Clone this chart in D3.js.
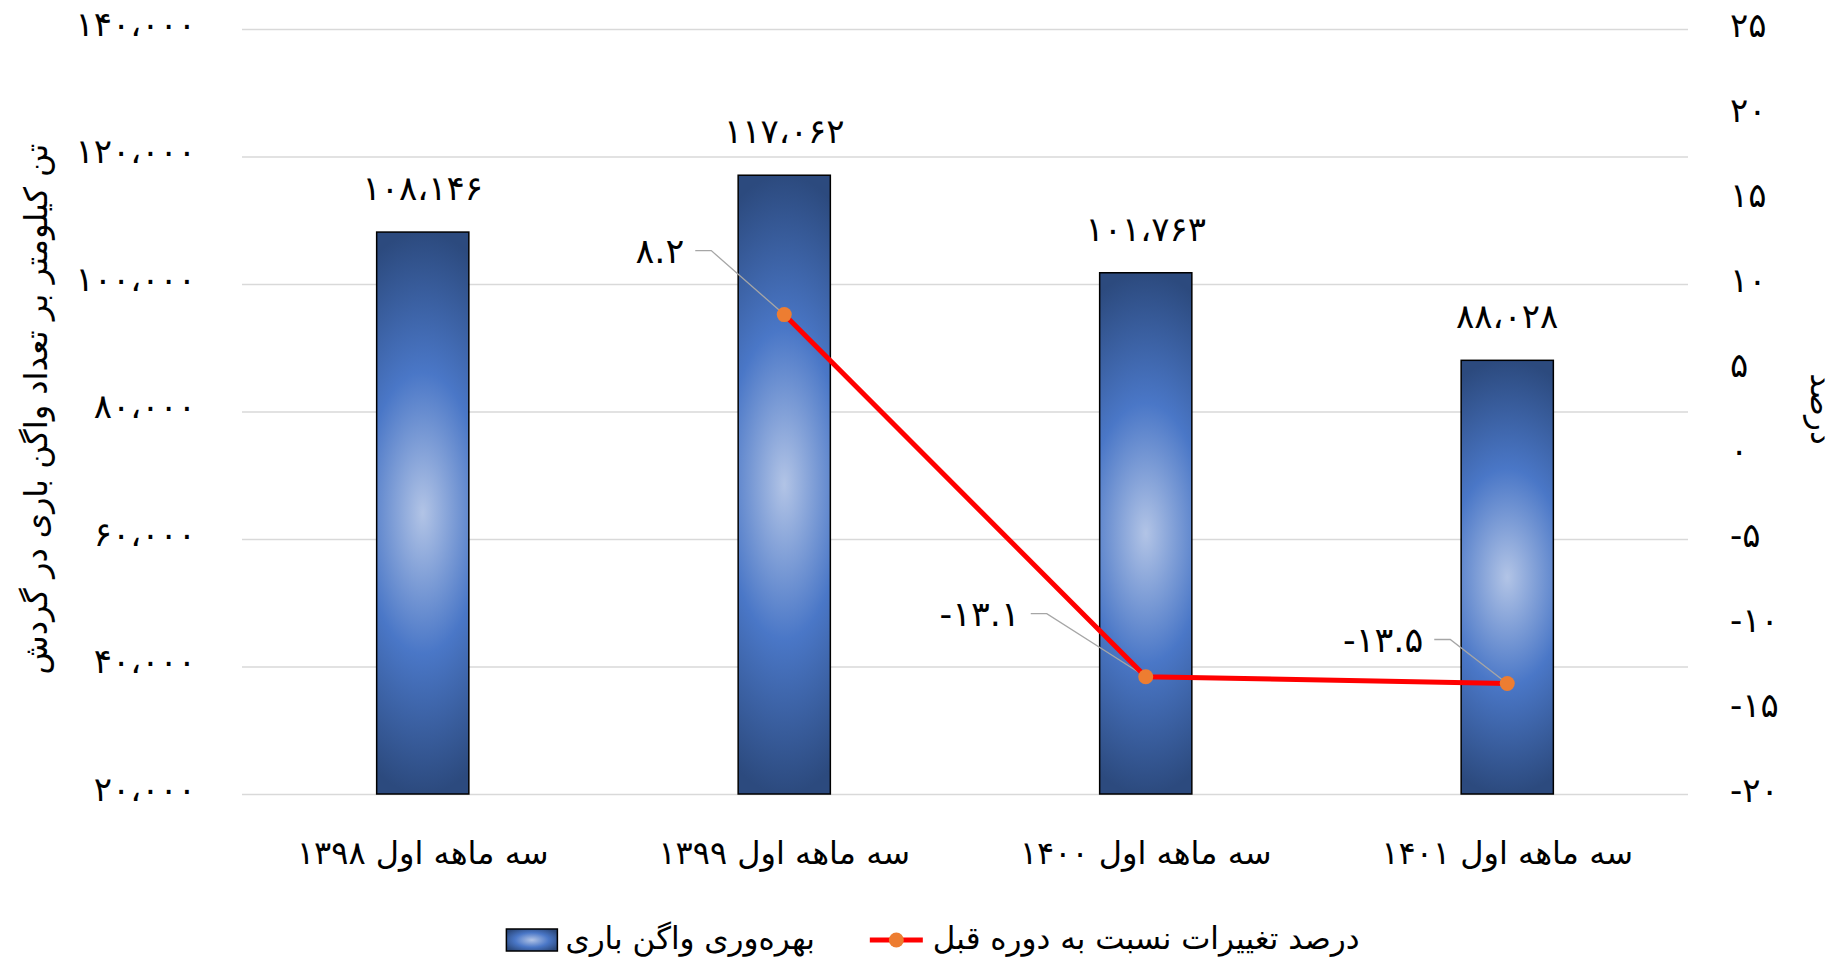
<!DOCTYPE html>
<html>
<head>
<meta charset="utf-8">
<script src="https://cdn.jsdelivr.net/npm/d3@7"></script>
<style>
  body { margin: 0; background: #fff; }
  text { font-family: "DejaVu Sans", sans-serif; fill: #000; }
</style>
</head>
<body>
<div id="chart"></div>
<script>
// chart data
const categories = ["سه ماهه اول ۱۳۹۸", "سه ماهه اول ۱۳۹۹", "سه ماهه اول ۱۴۰۰", "سه ماهه اول ۱۴۰۱"];
const productivity = [108146, 117062, 101763, 88028];
const changePct = [null, 8.2, -13.1, -13.5];
const leftTicks = [20000, 40000, 60000, 80000, 100000, 120000, 140000];
const rightTicks = [-20, -15, -10, -5, 0, 5, 10, 15, 20, 25];

const barName = "بهره‌وری واگن باری";
const lineName = "درصد تغییرات نسبت به دوره قبل";
const leftTitle = "تن کیلومتر بر تعداد واگن باری در گردش";
const rightTitle = "درصد";

// where each line label sits, relative to its point
const labelOffsets = [null, [-100, -64], [-126, -63], [-84, -44]];

var width = 1847, height = 962;
var plot = {left: 242, right: 1688, top: 29, bottom: 794};

const fa = d3.formatLocale({
  decimal: ".", thousands: "،", grouping: [3], currency: ["", ""],
  numerals: ["۰","۱","۲","۳","۴","۵","۶","۷","۸","۹"], minus: "-"
});
const fmtInt = fa.format(",d");
const fmtPct = fa.format(".1f");

const svg = d3.select("#chart").append("svg")
  .attr("width", width)
  .attr("height", height);

const defs = svg.append("defs");
var grad = defs.append("radialGradient")
  .attr("id", "barfill")
  .attr("cx", 0.5).attr("cy", 0.5).attr("r", 0.5)
  .attr("gradientTransform", "translate(0.5,0.5) scale(2.6,1) translate(-0.5,-0.5)");
grad.append("stop").attr("offset", "0%").attr("stop-color", "#b2c4e6");
grad.append("stop").attr("offset", "50%").attr("stop-color", "#4a77c7");
grad.append("stop").attr("offset", "100%").attr("stop-color", "#2c4a7e");

var legGrad = defs.append("radialGradient")
  .attr("id", "legfill")
  .attr("cx", 0.5).attr("cy", 0.5).attr("r", 0.6);
legGrad.append("stop").attr("offset", "0%").attr("stop-color", "#b2c4e6");
legGrad.append("stop").attr("offset", "55%").attr("stop-color", "#4a77c7");
legGrad.append("stop").attr("offset", "100%").attr("stop-color", "#2c4a7e");

const x = d3.scaleBand()
  .domain(categories)
  .range([plot.left, plot.right])
  .paddingInner(0.745)
  .paddingOuter(0.3725);

const yLeft = d3.scaleLinear().domain([20000, 140000]).range([plot.bottom, plot.top]);
const yRight = d3.scaleLinear().domain([-20, 25]).range([plot.bottom, plot.top]);

// gridlines
svg.append("g")
  .attr("transform", "translate(" + plot.left + ",0)")
  .call(d3.axisLeft(yLeft).tickValues(leftTicks).tickSize(-(plot.right - plot.left)).tickFormat(""))
  .call(g => g.select(".domain").remove())
  .call(g => g.selectAll("line").attr("stroke", "#d9d9d9").attr("stroke-width", 1.5));

// left axis labels
svg.append("g")
  .attr("transform", "translate(196,0)")
  .call(d3.axisLeft(yLeft).tickValues(leftTicks).tickSize(0).tickPadding(0).tickFormat(fmtInt))
  .call(g => g.select(".domain").remove())
  .call(g => g.selectAll("text")
    .attr("font-size", 34)
    .attr("font-family", "DejaVu Sans")
    .attr("dy", "0.18em")
    .attr("fill", "#000"));

// right axis labels
svg.append("g")
  .attr("transform", "translate(1730,0)")
  .call(d3.axisRight(yRight).tickValues(rightTicks).tickSize(0).tickPadding(0).tickFormat(fa.format("d")))
  .call(g => g.select(".domain").remove())
  .call(g => g.selectAll("text")
    .attr("font-size", 34)
    .attr("font-family", "DejaVu Sans")
    .attr("letter-spacing", 3)
    .attr("dy", "0.22em")
    .attr("fill", "#000"));

// bars
svg.append("g").selectAll("rect")
  .data(productivity)
  .join("rect")
  .attr("x", (d, i) => x(categories[i]))
  .attr("y", d => yLeft(d))
  .attr("width", x.bandwidth())
  .attr("height", d => plot.bottom - yLeft(d))
  .attr("fill", "url(#barfill)")
  .attr("stroke", "#000")
  .attr("stroke-width", 1.5);

// bar labels
svg.append("g").selectAll("text")
  .data(productivity)
  .join("text")
  .attr("x", (d, i) => x(categories[i]) + x.bandwidth() / 2)
  .attr("y", d => yLeft(d) - 32)
  .attr("text-anchor", "middle")
  .attr("font-size", 34)
  .text(d => fmtInt(d));

// line series
var pts = changePct.map((v, i) => v == null ? null : {
  v: v, i: i,
  px: x(categories[i]) + x.bandwidth() / 2,
  py: yRight(v)
}).filter(p => p);

// leader lines + labels
pts.forEach(function(p) {
  var off = labelOffsets[p.i];
  var lx = p.px + off[0], ly = p.py + off[1];
  svg.append("polyline")
    .attr("points", [[lx + 11, ly], [lx + 27, ly], [p.px, p.py]].map(q => q.join(",")).join(" "))
    .attr("fill", "none")
    .attr("stroke", "#a6a6a6")
    .attr("stroke-width", 1.3);
  svg.append("text")
    .attr("x", lx)
    .attr("y", ly)
    .attr("dy", "0.35em")
    .attr("text-anchor", "end")
    .attr("font-size", 35)
    .text(fmtPct(p.v));
});

svg.append("path")
  .datum(pts)
  .attr("d", d3.line().x(p => p.px).y(p => p.py))
  .attr("fill", "none")
  .attr("stroke", "#ff0000")
  .attr("stroke-width", 5);

svg.append("g").selectAll("circle")
  .data(pts)
  .join("circle")
  .attr("cx", p => p.px)
  .attr("cy", p => p.py)
  .attr("r", 7.5)
  .attr("fill", "#ed7d31");

// category labels
svg.append("g").selectAll("text")
  .data(categories)
  .join("text")
  .attr("x", d => x(d) + x.bandwidth() / 2)
  .attr("y", 864)
  .attr("text-anchor", "middle")
  .attr("font-size", 32)
  .text(d => d);

// axis titles
svg.append("text")
  .attr("transform", "translate(36,409) rotate(-90)")
  .attr("text-anchor", "middle")
  .attr("dy", "0.35em")
  .attr("font-size", 32)
  .text(leftTitle);

svg.append("text")
  .attr("transform", "translate(1822,409) rotate(90)")
  .attr("text-anchor", "middle")
  .attr("dy", "0.35em")
  .attr("font-size", 31)
  .text(rightTitle);

// legend
var leg = svg.append("g");
var legY = 940;
var t1 = leg.append("text").attr("font-size", 31).attr("y", legY).attr("dy", "0.3em").text(barName);
var t2 = leg.append("text").attr("font-size", 31).attr("y", legY).attr("dy", "0.3em").text(lineName);
var w1 = t1.node().getComputedTextLength();
var w2 = t2.node().getComputedTextLength();
var total = 51 + 8 + w1 + 55 + 53 + 10 + w2;
var lx0 = 933 - total / 2;
leg.append("rect")
  .attr("x", lx0).attr("y", legY - 11)
  .attr("width", 51).attr("height", 22)
  .attr("fill", "url(#legfill)")
  .attr("stroke", "#000").attr("stroke-width", 1.5);
t1.attr("x", lx0 + 59);
var sx = lx0 + 59 + w1 + 55;
leg.append("line")
  .attr("x1", sx).attr("x2", sx + 53)
  .attr("y1", legY).attr("y2", legY)
  .attr("stroke", "#ff0000").attr("stroke-width", 5);
leg.append("circle")
  .attr("cx", sx + 26.5).attr("cy", legY).attr("r", 7.5)
  .attr("fill", "#ed7d31");
t2.attr("x", sx + 63);
</script>
</body>
</html>
